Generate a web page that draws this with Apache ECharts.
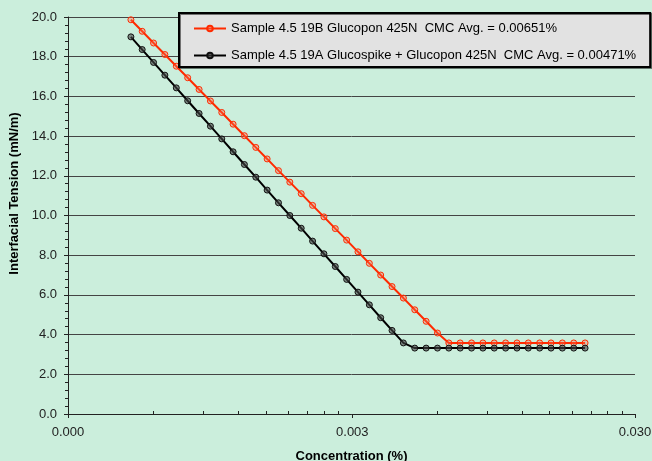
<!DOCTYPE html>
<html>
<head>
<meta charset="utf-8">
<script src="https://cdn.jsdelivr.net/npm/echarts@6/dist/echarts.min.js"></script>
<style>
html,body{margin:0;padding:0;background:#CBEEDC;}
#chart{width:652px;height:461px;}
</style>
</head>
<body>
<div id="chart"></div>
<script>
// Concentration (%) — shared by both samples
var concentration = [0.000500, 0.000548, 0.000601, 0.000659, 0.000723, 0.000793, 0.000870, 0.000954, 0.001046, 0.001147,
  0.001257, 0.001379, 0.001512, 0.001658, 0.001818, 0.001994, 0.002187, 0.002398, 0.002630, 0.002884,
  0.003162, 0.003468, 0.003803, 0.004170, 0.004573, 0.005015, 0.005500, 0.006031, 0.006613, 0.007252,
  0.007953, 0.008721, 0.009564, 0.010488, 0.011501, 0.012613, 0.013831, 0.015167, 0.016632, 0.018239, 0.020000];
// Interfacial tension (mN/m)
var sample19B = [19.86, 19.28, 18.69, 18.11, 17.52, 16.94, 16.35, 15.77, 15.19, 14.60,
  14.02, 13.43, 12.85, 12.26, 11.68, 11.10, 10.51, 9.93, 9.34, 8.76,
  8.17, 7.59, 7.00, 6.42, 5.84, 5.25, 4.67, 4.08, 3.58, 3.58,
  3.58, 3.58, 3.58, 3.58, 3.58, 3.58, 3.58, 3.58, 3.58, 3.58, 3.58];
var sample19A = [19.00, 18.36, 17.71, 17.07, 16.43, 15.78, 15.14, 14.50, 13.86, 13.21,
  12.57, 11.93, 11.28, 10.64, 10.00, 9.36, 8.71, 8.07, 7.43, 6.78,
  6.14, 5.50, 4.85, 4.21, 3.58, 3.32, 3.32, 3.32, 3.32, 3.32,
  3.32, 3.32, 3.32, 3.32, 3.32, 3.32, 3.32, 3.32, 3.32, 3.32, 3.32];
var seriesNames = ['Sample 4.5 19B Glucopon 425N  CMC Avg. = 0.00651%',
  'Sample 4.5 19A Glucospike + Glucopon 425N  CMC Avg. = 0.00471%'];
var xMinorTicks = [0.0006, 0.0009, 0.0012, 0.0015, 0.0018, 0.0021, 0.0024, 0.0027,
  0.006, 0.009, 0.012, 0.015, 0.018, 0.021, 0.024, 0.027];

function pairs(xs, ys){ return xs.map(function(x,i){ return [x, ys[i]]; }); }

var FONT = 'Liberation Sans, Arial, sans-serif';
var chart = echarts.init(document.getElementById('chart'));
chart.setOption({
  backgroundColor: '#CBEEDC',
  animation: false,
  grid: {left: 68, right: 17, top: 17, bottom: 47, containLabel: false, outerBoundsMode: 'none'},
  legend: {
    orient: 'vertical', left: 179, top: 13,
    backgroundColor: '#E2E2E2', borderColor: '#000', borderWidth: 2,
    shadowColor: 'rgba(0,0,0,0.5)', shadowOffsetX: 1, shadowOffsetY: 1, shadowBlur: 0,
    padding: [9, 14, 5, 14], itemGap: 14, itemWidth: 32, itemHeight: 7,
    textStyle: {fontFamily: FONT, fontSize: 13, color: '#000'},
    data: seriesNames
  },
  xAxis: [{
    type: 'log', logBase: 10, min: 0.0003, max: 0.03,
    interval: 1,
    name: 'Concentration (%)', nameLocation: 'middle', nameGap: 36,
    nameTextStyle: {fontFamily: FONT, fontSize: 13, fontWeight: 'bold', color: '#000'},
    axisLine: {lineStyle: {color: '#222', width: 1}},
    axisTick: {show: true, length: 4, lineStyle: {color: '#222'}},
    axisLabel: {fontFamily: FONT, fontSize: 13, color: '#222', margin: 12,
      formatter: function(v){ return v.toFixed(3); }},
    splitLine: {show: false},
    minorTick: {show: false}
  }, {
    type: 'log', logBase: 10, min: 0.0003, max: 0.03, position: 'bottom',
    axisLine: {show: false},
    axisTick: {show: true, inside: true, length: 3, customValues: xMinorTicks, lineStyle: {color: '#222'}},
    axisLabel: {show: false},
    splitLine: {show: false}
  }],
  yAxis: {
    type: 'value', min: 0, max: 20, interval: 2,
    name: 'Interfacial Tension (mN/m)', nameLocation: 'middle', nameGap: 45,
    nameTextStyle: {fontFamily: FONT, fontSize: 13, fontWeight: 'bold', color: '#000', padding: [0, 0, 0, 44]},
    axisLine: {show: true, lineStyle: {color: '#222', width: 1}},
    axisTick: {show: true, length: 4, lineStyle: {color: '#222'}},
    minorTick: {show: true, splitNumber: 5, length: 3, lineStyle: {color: '#222'}},
    axisLabel: {fontFamily: FONT, fontSize: 13, color: '#222', margin: 11,
      formatter: function(v){ return v.toFixed(1); }},
    splitLine: {show: true, lineStyle: {color: '#444', width: 1}}
  },
  series: [{
    name: seriesNames[0], type: 'line', xAxisIndex: 0,
    data: pairs(concentration, sample19B),
    symbol: 'circle', symbolSize: 6,
    lineStyle: {color: '#FF2A00', width: 2},
    itemStyle: {color: 'rgba(255,110,80,0.35)', borderColor: '#FF2A00', borderWidth: 1}
  }, {
    name: seriesNames[1], type: 'line', xAxisIndex: 0,
    data: pairs(concentration, sample19A),
    symbol: 'circle', symbolSize: 6,
    lineStyle: {color: '#000', width: 2},
    itemStyle: {color: 'rgba(70,70,70,0.6)', borderColor: '#111', borderWidth: 1}
  }]
});
</script>
</body>
</html>
